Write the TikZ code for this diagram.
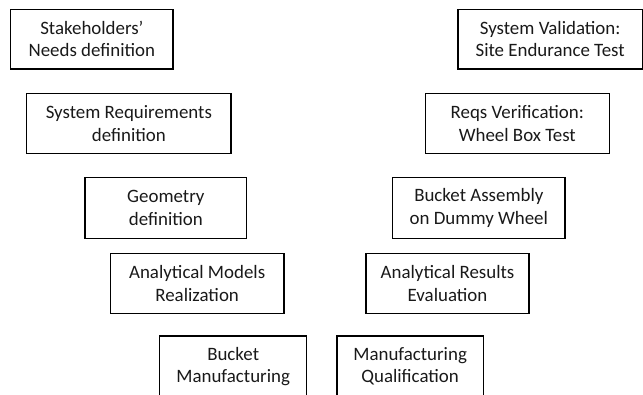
\documentclass[tikz,border=0pt]{standalone}
\usepackage{fontspec}
\setmainfont{Carlito}
\begin{document}
\begin{tikzpicture}[x=1pt,y=-1pt,
  stepbox/.style={draw=black, line width=1.4pt, inner sep=0pt, align=center,
    font=\fontsize{18.9}{22.3}\selectfont, text=black!90},
]
\useasboundingbox (0,0) rectangle (643,394);
\clip (0,0) rectangle (643,394);
\node[stepbox, minimum width=162.3pt, minimum height=59.7pt] (sn) at (91.85,39.15) {Stakeholders’\\Needs definition};
\node[stepbox, minimum width=204.3pt, minimum height=60.4pt] (sr) at (128.85,123.5) {System Requirements\\definition};
\node[stepbox, minimum width=161.7pt, minimum height=60.6pt] (gd) at (165.85,208) {Geometry\\definition};
\node[stepbox, minimum width=173.7pt, minimum height=60.4pt] (am) at (197.15,283.5) {Analytical Models\\Realization};
\node[stepbox, minimum width=147pt, minimum height=60.6pt] (bm) at (233.2,366.3) {Bucket\\Manufacturing};
\node[stepbox, minimum width=184.3pt, minimum height=59.7pt] (sv) at (550.15,39.15) {System Validation:\\Site Endurance Test};
\node[stepbox, minimum width=184pt, minimum height=60.4pt] (rv) at (517.3,123.5) {Reqs Verification:\\Wheel Box Test};
\node[stepbox, minimum width=172.3pt, minimum height=60.6pt] (ba) at (478.85,208) {Bucket Assembly\\on Dummy Wheel};
\node[stepbox, minimum width=163pt, minimum height=60.4pt] (ar) at (447.5,283.5) {Analytical Results\\Evaluation};
\node[stepbox, minimum width=146.3pt, minimum height=60.6pt] (mq) at (410.15,366.3) {Manufacturing\\Qualification};
\end{tikzpicture}
\end{document}
